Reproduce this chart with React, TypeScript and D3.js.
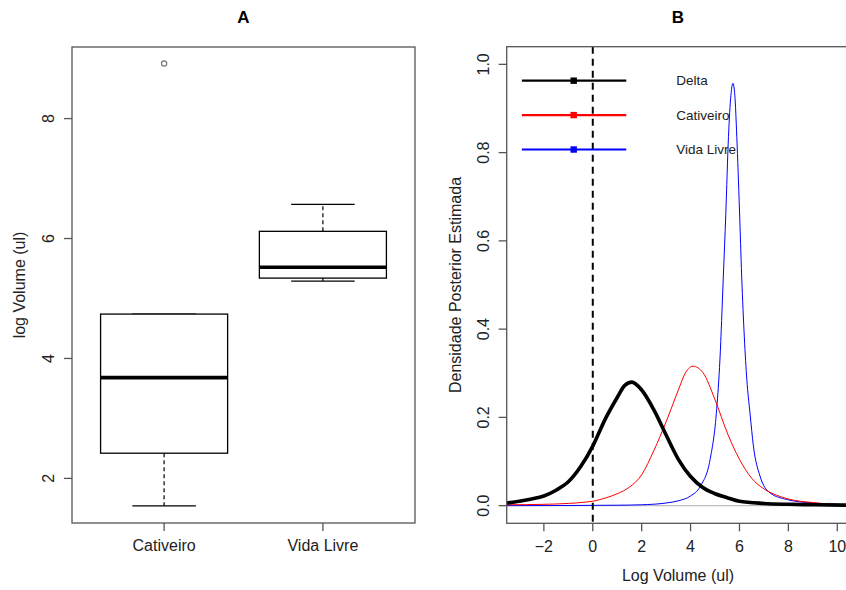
import React from 'react';
import * as d3 from 'd3';

// Panel A: boxplot summaries
const boxCategories = ['Cativeiro', 'Vida Livre'];
const boxLowerWhisker = [1.54, 5.29];
const boxQ1 = [2.42, 5.34];
const boxMedian = [3.68, 5.52];
const boxQ3 = [4.74, 6.12];
const boxUpperWhisker = [4.74, 6.57];
const boxOutliers = [[8.92], []];
const aYTicks = [2, 4, 6, 8];

// Panel B: posterior densities, [log volume, density]
const deltaDensity: [number, number][] = [
  [-3.52, 0.006], [-3.0, 0.01], [-2.5, 0.015], [-2.0, 0.022], [-1.5, 0.035],
  [-1.0, 0.054], [-0.5, 0.088], [0, 0.135], [0.5, 0.195], [1.0, 0.245],
  [1.3, 0.272], [1.6, 0.28], [2.0, 0.262], [2.5, 0.217], [3.0, 0.16],
  [3.5, 0.105], [4.0, 0.066], [4.5, 0.041], [5.0, 0.027], [5.5, 0.018],
  [6.0, 0.01], [7.0, 0.005], [8.0, 0.003], [9.0, 0.002], [10.52, 0.001],
];
const cativeiroDensity: [number, number][] = [
  [-3.52, 0.002], [-2.0, 0.003], [-1.0, 0.005], [-0.3, 0.008], [0, 0.01],
  [0.5, 0.017], [1.0, 0.027], [1.5, 0.042], [2.0, 0.07], [2.5, 0.125],
  [3.0, 0.19], [3.5, 0.262], [3.8, 0.302], [4.1, 0.316], [4.5, 0.302],
  [5.0, 0.24], [5.5, 0.165], [6.0, 0.105], [6.5, 0.062], [7.0, 0.038],
  [7.5, 0.024], [8.0, 0.015], [9.0, 0.007], [10.52, 0.002],
];
const vidaLivreDensity: [number, number][] = [
  [-3.52, 0.0], [1.0, 0.001], [2.0, 0.002], [3.0, 0.006], [3.5, 0.011],
  [4.0, 0.022], [4.4, 0.044], [4.8, 0.105], [5.07, 0.22], [5.2, 0.33],
  [5.34, 0.52], [5.44, 0.66], [5.55, 0.836], [5.65, 0.93], [5.73, 0.957],
  [5.81, 0.93], [5.89, 0.836], [6.0, 0.67], [6.09, 0.52], [6.2, 0.38],
  [6.3, 0.286], [6.43, 0.21], [6.57, 0.135], [6.84, 0.067], [7.25, 0.029],
  [7.93, 0.014], [9.0, 0.006], [10.52, 0.002],
];
const bXTicks = [-2, 0, 2, 4, 6, 8, 10];
const bYTicks = [0, 0.2, 0.4, 0.6, 0.8, 1.0];

const legendNames = ['Delta', 'Cativeiro', 'Vida Livre'];
const legendColors = ['#000000', '#ff0000', '#0000ff'];

const FONT = '"Liberation Sans", Arial, Helvetica, sans-serif';
const TEXT = '#222';
const FRAME = '#555';

export default function App() {
  // panel A layout
  const a = { left: 72, right: 415, top: 47, bottom: 523 };
  const xA = d3.scaleLinear().domain([0.42, 2.58]).range([a.left, a.right]);
  const yA = d3.scaleLinear().domain([1.256, 9.194]).range([a.bottom, a.top]);

  // panel B layout
  const b = { left: 506.7, right: 850, top: 46.7, bottom: 523.3 };
  const xB = d3.scaleLinear().domain([-3.52, 10.52]).range([b.left, b.right]);
  const yB = d3.scaleLinear().domain([-0.04, 1.04]).range([b.bottom, b.top]);

  const line = d3
    .line<[number, number]>()
    .x(d => xB(d[0]))
    .y(d => yB(d[1]))
    .curve(d3.curveMonotoneX);

  const boxW = 0.4;
  const capW = 0.2;

  const legendTop = 0.963;
  const legendStep = 0.078;

  return (
    <svg
      width={846}
      height={590}
      style={{ position: 'absolute', left: 0, top: 0, background: '#fff' }}
      fontFamily={FONT}
    >
      <defs>
        <clipPath id="clipB">
          <rect x={b.left} y={b.top} width={b.right - b.left} height={b.bottom - b.top} />
        </clipPath>
      </defs>

      {/* ---------- Panel A ---------- */}
      <text x={(a.left + a.right) / 2} y={23} textAnchor="middle" fontWeight="bold" fontSize={17} fill="#000">
        A
      </text>
      {boxCategories.map((c, i) => {
        const cx = xA(i + 1);
        return (
          <g key={c}>
            {/* whiskers */}
            <line x1={cx} x2={cx} y1={yA(boxQ3[i])} y2={yA(boxUpperWhisker[i])} stroke="#000" strokeWidth={1.2} strokeDasharray="4,3" />
            <line x1={cx} x2={cx} y1={yA(boxQ1[i])} y2={yA(boxLowerWhisker[i])} stroke="#000" strokeWidth={1.2} strokeDasharray="4,3" />
            <line x1={xA(i + 1 - capW)} x2={xA(i + 1 + capW)} y1={yA(boxUpperWhisker[i])} y2={yA(boxUpperWhisker[i])} stroke="#000" strokeWidth={1.3} />
            <line x1={xA(i + 1 - capW)} x2={xA(i + 1 + capW)} y1={yA(boxLowerWhisker[i])} y2={yA(boxLowerWhisker[i])} stroke="#000" strokeWidth={1.3} />
            {/* box */}
            <rect
              x={xA(i + 1 - boxW)}
              y={yA(boxQ3[i])}
              width={xA(i + 1 + boxW) - xA(i + 1 - boxW)}
              height={yA(boxQ1[i]) - yA(boxQ3[i])}
              fill="#fff"
              stroke="#000"
              strokeWidth={1.3}
            />
            <line x1={xA(i + 1 - boxW)} x2={xA(i + 1 + boxW)} y1={yA(boxMedian[i])} y2={yA(boxMedian[i])} stroke="#000" strokeWidth={3.6} />
            {boxOutliers[i].map((o, j) => (
              <circle key={j} cx={cx} cy={yA(o)} r={2.6} fill="none" stroke="#777" strokeWidth={1.2} />
            ))}
            {/* x tick + label */}
            <line x1={cx} x2={cx} y1={a.bottom} y2={a.bottom + 8} stroke={FRAME} strokeWidth={1.3} />
            <text x={cx} y={545} textAnchor="middle" dominantBaseline="central" fontSize={16} fill={TEXT}>
              {c}
            </text>
          </g>
        );
      })}
      <rect x={a.left} y={a.top} width={a.right - a.left} height={a.bottom - a.top} fill="none" stroke={FRAME} strokeWidth={1.3} />
      {aYTicks.map(t => (
        <g key={t}>
          <line x1={a.left - 8} x2={a.left} y1={yA(t)} y2={yA(t)} stroke={FRAME} strokeWidth={1.3} />
          <text
            transform={`translate(48,${yA(t)}) rotate(-90)`}
            textAnchor="middle"
            dominantBaseline="central"
            fontSize={16}
            fill={TEXT}
          >
            {t}
          </text>
        </g>
      ))}
      <text
        transform={`translate(19,${(a.top + a.bottom) / 2}) rotate(-90)`}
        textAnchor="middle"
        dominantBaseline="central"
        fontSize={16}
        fill={TEXT}
      >
        log Volume (ul)
      </text>

      {/* ---------- Panel B ---------- */}
      <text x={678} y={23} textAnchor="middle" fontWeight="bold" fontSize={17} fill="#000">
        B
      </text>
      <g clipPath="url(#clipB)">
        <line x1={b.left} x2={b.right} y1={yB(0)} y2={yB(0)} stroke="#bdbdbd" strokeWidth={1.2} />
        <path d={line(vidaLivreDensity) || ''} fill="none" stroke="#0000ff" strokeWidth={1} />
        <path d={line(cativeiroDensity) || ''} fill="none" stroke="#ff0000" strokeWidth={1} />
        <path d={line(deltaDensity) || ''} fill="none" stroke="#000" strokeWidth={3.6} strokeLinejoin="round" />
        <line x1={xB(0)} x2={xB(0)} y1={b.top} y2={b.bottom} stroke="#000" strokeWidth={2} strokeDasharray="7,5" />
      </g>

      {/* legend */}
      {legendNames.map((n, i) => {
        const ly = yB(legendTop - i * legendStep);
        return (
          <g key={n}>
            <line x1={xB(-2.9)} x2={xB(1.37)} y1={ly} y2={ly} stroke={legendColors[i]} strokeWidth={2.2} />
            <rect x={xB(-0.78) - 3.2} y={ly - 3.2} width={6.4} height={6.4} fill={legendColors[i]} />
            <text x={xB(3.41)} y={ly} dominantBaseline="central" fontSize={13.5} fill={TEXT}>
              {n}
            </text>
          </g>
        );
      })}

      <rect x={b.left} y={b.top} width={b.right - b.left} height={b.bottom - b.top} fill="none" stroke={FRAME} strokeWidth={1.3} />
      {bXTicks.map(t => (
        <g key={t}>
          <line x1={xB(t)} x2={xB(t)} y1={b.bottom} y2={b.bottom + 8} stroke={FRAME} strokeWidth={1.3} />
          <text x={xB(t)} y={546} textAnchor="middle" dominantBaseline="central" fontSize={16} fill={TEXT}>
            {t < 0 ? `\u2212${Math.abs(t)}` : t}
          </text>
        </g>
      ))}
      {bYTicks.map(t => (
        <g key={t}>
          <line x1={b.left - 8} x2={b.left} y1={yB(t)} y2={yB(t)} stroke={FRAME} strokeWidth={1.3} />
          <text
            transform={`translate(483,${yB(t)}) rotate(-90)`}
            textAnchor="middle"
            dominantBaseline="central"
            fontSize={16}
            fill={TEXT}
          >
            {t.toFixed(1)}
          </text>
        </g>
      ))}
      <text x={678} y={575} textAnchor="middle" dominantBaseline="central" fontSize={16} fill={TEXT}>
        Log Volume (ul)
      </text>
      <text
        transform={`translate(455,${(b.top + b.bottom) / 2}) rotate(-90)`}
        textAnchor="middle"
        dominantBaseline="central"
        fontSize={16}
        fill={TEXT}
      >
        Densidade Posterior Estimada
      </text>
    </svg>
  );
}
